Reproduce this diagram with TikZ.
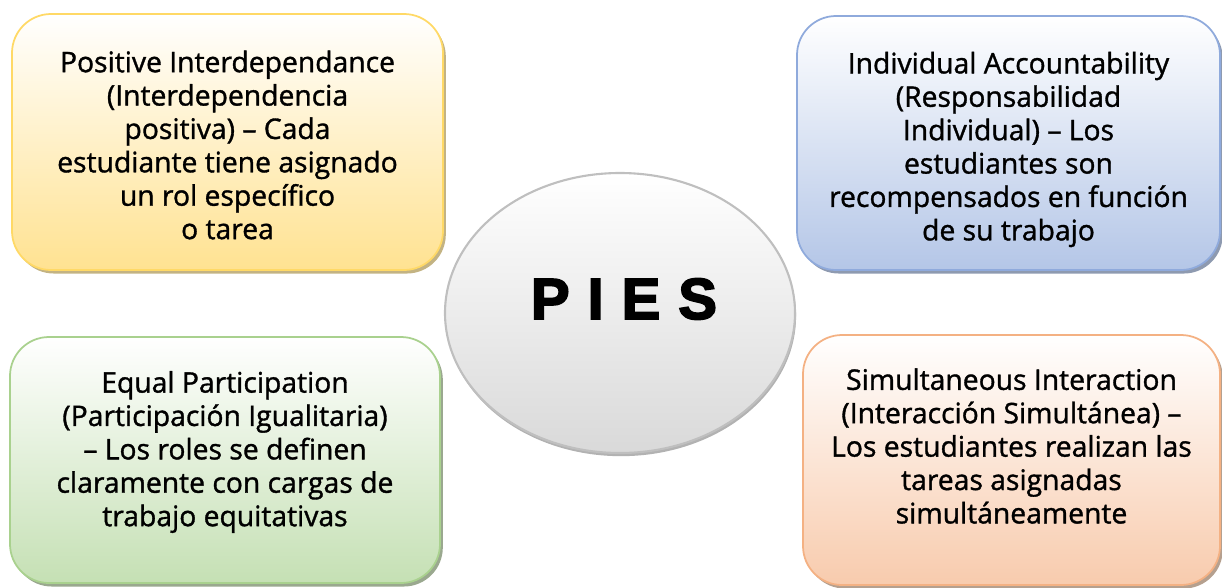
\documentclass[tikz,border=0pt]{standalone}
\usepackage{fontspec}
\setmainfont{Open Sans}[FakeBold=1.2]
\newfontfamily\piesfont{Liberation Sans Bold}[FakeBold=3]
\usetikzlibrary{shadows,shapes.geometric}
\definecolor{yelFill}{HTML}{FFE291}
\definecolor{yelEdge}{HTML}{FFD966}
\definecolor{yelShade}{HTML}{C3B383}
\definecolor{bluFill}{HTML}{B4C6E7}
\definecolor{bluEdge}{HTML}{8FAADC}
\definecolor{bluShade}{HTML}{8E9AB0}
\definecolor{grnFill}{HTML}{C5E0B4}
\definecolor{grnEdge}{HTML}{A9D18E}
\definecolor{grnShade}{HTML}{9AA88F}
\definecolor{orgFill}{HTML}{F8CBAD}
\definecolor{orgEdge}{HTML}{F4B183}
\definecolor{orgShade}{HTML}{B5A08F}
\definecolor{discFill}{HTML}{D9D9D9}
\definecolor{discEdge}{HTML}{BFBFBF}

\begin{document}
\begin{tikzpicture}[
  card/.style={rectangle, rounded corners=0.78cm, line width=1pt, inner sep=0pt, top color=white, middle color=#1!45, bottom color=#1},
  cast/.style={drop shadow={opacity=1, fill=#1, shadow xshift=1.6pt, shadow yshift=-2pt}},
  txt/.style={align=center, inner sep=0pt, font=\fontsize{16.1}{19}\selectfont},
]
\useasboundingbox (0,0) rectangle (24.44,-11.74);

% Positive Interdependance (top left)
\node[card=yelFill, draw=yelEdge, cast=yelShade, minimum width=8.62cm, minimum height=5.12cm] (pos) at (4.55,-2.84) {};
\node[txt] (pos-t) at (4.55,-2.90) {Positive Interdependance\\(Interdependencia\\positiva) -- Cada\\estudiante tiene asignado\\un rol específico\\o tarea};

% Individual Accountability (top right)
\node[card=bluFill, draw=bluEdge, cast=bluShade, minimum width=8.46cm, minimum height=5.08cm] (ind) at (20.17,-2.86) {};
\node[txt] (ind-t) at (20.17,-2.99) {Individual Accountability\\(Responsabilidad\\Individual) -- Los\\estudiantes son\\recompensados en función\\de su trabajo};

% Equal Participation (bottom left)
\node[card=grnFill, draw=grnEdge, cast=grnShade, minimum width=8.60cm, minimum height=4.92cm] (equ) at (4.50,-9.20) {};
\node[txt] (equ-t) at (4.50,-9.04) {Equal Participation\\(Participación Igualitaria)\\-- Los roles se definen\\claramente con cargas de\\trabajo equitativas};

% Simultaneous Interaction (bottom right)
\node[card=orgFill, draw=orgEdge, cast=orgShade, minimum width=8.34cm, minimum height=5.00cm] (sim) at (20.23,-9.20) {};
\node[txt] (sim-t) at (20.23,-8.92) {Simultaneous Interaction\\(Interacción Simultánea) --\\Los estudiantes realizan las\\tareas asignadas\\simultáneamente};

% centre disc
\node[ellipse, minimum width=7.0cm, minimum height=5.6cm, inner sep=0pt, top color=white, bottom color=discFill, draw=discEdge, line width=1.2pt,
  drop shadow={opacity=1, fill=black!30, shadow xshift=0.6pt, shadow yshift=-1.8pt}] (pies) at (12.40,-6.26) {};
\node[font=\piesfont\fontsize{33}{33}\selectfont, inner sep=0pt] (pies-t) at (12.48,-5.98) {P\hspace{0.31em}I\hspace{0.31em}E\hspace{0.31em}S};
\end{tikzpicture}
\end{document}
